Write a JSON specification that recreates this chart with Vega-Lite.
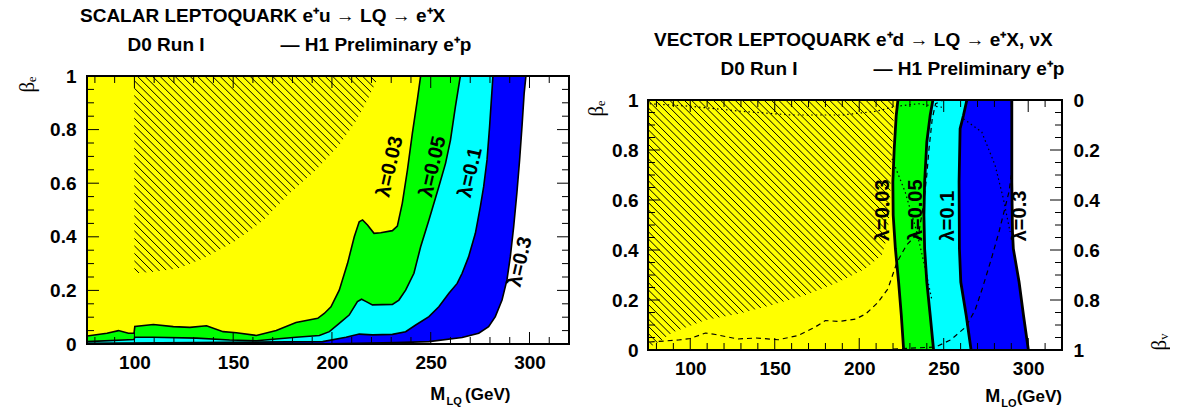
{
  "$schema": "https://vega.github.io/schema/vega-lite/v6.json",
  "background": "white",
  "padding": {"left": 16, "top": 0, "right": 0, "bottom": 0},
  "spacing": 15,
  "config": {
    "font": "Liberation Sans",
    "view": {"stroke": null},
    "axis": {"labelFont": "Liberation Sans", "labelFontSize": 19, "labelFontWeight": "bold", "labelColor": "black", "ticks": false, "domain": false, "grid": false, "zindex": 1, "labelOverlap": false, "labelFlush": false, "titleColor": "black"},
    "title": {"font": "Liberation Sans", "fontSize": 19, "fontWeight": "bold", "color": "black", "anchor": "start", "frame": "group", "subtitleFont": "Liberation Sans", "subtitleFontSize": 19, "subtitleFontWeight": "bold", "subtitleColor": "black", "subtitlePadding": 10}
  },
  "datasets": {
    "L": [
      {"c":"0.03","x":76,"y":0.03},{"c":"0.03","x":86.1,"y":0.04},{"c":"0.03","x":91.9,"y":0.05},{"c":"0.03","x":97,"y":0.04},{"c":"0.03","x":99.8,"y":0.04},{"c":"0.03","x":100.2,"y":0.065},{"c":"0.03","x":109.6,"y":0.073},{"c":"0.03","x":119.7,"y":0.065},{"c":"0.03","x":128.1,"y":0.062},{"c":"0.03","x":136.5,"y":0.068},{"c":"0.03","x":144.9,"y":0.046},{"c":"0.03","x":151.6,"y":0.042},{"c":"0.03","x":161.7,"y":0.032},{"c":"0.03","x":171.8,"y":0.05},{"c":"0.03","x":181.8,"y":0.08},{"c":"0.03","x":192.8,"y":0.096},{"c":"0.03","x":196.1,"y":0.114},{"c":"0.03","x":199.5,"y":0.139},{"c":"0.03","x":203.7,"y":0.201},{"c":"0.03","x":207.9,"y":0.301},{"c":"0.03","x":211.3,"y":0.4},{"c":"0.03","x":213.8,"y":0.456},{"c":"0.03","x":215.5,"y":0.463},{"c":"0.03","x":218,"y":0.444},{"c":"0.03","x":221.3,"y":0.413},{"c":"0.03","x":224.7,"y":0.415},{"c":"0.03","x":230.6,"y":0.423},{"c":"0.03","x":233.1,"y":0.44},{"c":"0.03","x":235.6,"y":0.525},{"c":"0.03","x":238.2,"y":0.649},{"c":"0.03","x":240.7,"y":0.786},{"c":"0.03","x":243.2,"y":0.91},{"c":"0.03","x":244.9,"y":1},{"c":"0.03","x":320,"y":1},
      {"c":"0.05","x":76,"y":0.009},{"c":"0.05","x":99.8,"y":0.017},{"c":"0.05","x":100.2,"y":0.025},{"c":"0.05","x":109.6,"y":0.025},{"c":"0.05","x":131.4,"y":0.022},{"c":"0.05","x":148.2,"y":0.015},{"c":"0.05","x":161.7,"y":0.012},{"c":"0.05","x":181.8,"y":0.025},{"c":"0.05","x":193.6,"y":0.032},{"c":"0.05","x":198.7,"y":0.046},{"c":"0.05","x":203.7,"y":0.077},{"c":"0.05","x":208.7,"y":0.108},{"c":"0.05","x":212.9,"y":0.158},{"c":"0.05","x":215,"y":0.167},{"c":"0.05","x":217.1,"y":0.159},{"c":"0.05","x":220.5,"y":0.146},{"c":"0.05","x":230.6,"y":0.148},{"c":"0.05","x":233.9,"y":0.164},{"c":"0.05","x":237.3,"y":0.201},{"c":"0.05","x":241.5,"y":0.264},{"c":"0.05","x":244.9,"y":0.363},{"c":"0.05","x":249.1,"y":0.463},{"c":"0.05","x":254.1,"y":0.587},{"c":"0.05","x":257.5,"y":0.674},{"c":"0.05","x":260,"y":0.761},{"c":"0.05","x":262.5,"y":0.886},{"c":"0.05","x":265,"y":1},{"c":"0.05","x":320,"y":1},
      {"c":"0.1","x":76,"y":0.0025},{"c":"0.1","x":131.4,"y":0.005},{"c":"0.1","x":195.3,"y":0.009},{"c":"0.1","x":207.1,"y":0.025},{"c":"0.1","x":213.8,"y":0.037},{"c":"0.1","x":220.5,"y":0.034},{"c":"0.1","x":230.6,"y":0.036},{"c":"0.1","x":237.3,"y":0.046},{"c":"0.1","x":242.4,"y":0.071},{"c":"0.1","x":249.1,"y":0.102},{"c":"0.1","x":254.1,"y":0.139},{"c":"0.1","x":259.2,"y":0.189},{"c":"0.1","x":263.4,"y":0.226},{"c":"0.1","x":265.9,"y":0.264},{"c":"0.1","x":269.2,"y":0.326},{"c":"0.1","x":272.6,"y":0.413},{"c":"0.1","x":275.1,"y":0.512},{"c":"0.1","x":276.8,"y":0.587},{"c":"0.1","x":278.5,"y":0.687},{"c":"0.1","x":279.8,"y":0.811},{"c":"0.1","x":281.5,"y":1},{"c":"0.1","x":320,"y":1},
      {"c":"0.3","x":76,"y":0},{"c":"0.3","x":198.7,"y":0.001},{"c":"0.3","x":232.3,"y":0.005},{"c":"0.3","x":249.1,"y":0.009},{"c":"0.3","x":265.9,"y":0.024},{"c":"0.3","x":274.3,"y":0.04},{"c":"0.3","x":279.3,"y":0.065},{"c":"0.3","x":282.7,"y":0.102},{"c":"0.3","x":286.1,"y":0.164},{"c":"0.3","x":288.6,"y":0.239},{"c":"0.3","x":290.3,"y":0.326},{"c":"0.3","x":292,"y":0.438},{"c":"0.3","x":293.6,"y":0.562},{"c":"0.3","x":295,"y":0.687},{"c":"0.3","x":296.2,"y":0.811},{"c":"0.3","x":297.3,"y":0.935},{"c":"0.3","x":298.2,"y":1},{"c":"0.3","x":320,"y":1}
    ],
    "R": [
      {"c":"0.03","x":226.3,"y":0},{"c":"0.03","x":224.9,"y":0.139},{"c":"0.03","x":223.3,"y":0.272},{"c":"0.03","x":221.4,"y":0.405},{"c":"0.03","x":220.1,"y":0.539},{"c":"0.03","x":219.9,"y":0.672},{"c":"0.03","x":220.7,"y":0.805},{"c":"0.03","x":221.9,"y":0.939},{"c":"0.03","x":222.9,"y":1},
      {"c":"0.05","x":244,"y":0},{"c":"0.05","x":242,"y":0.139},{"c":"0.05","x":240,"y":0.272},{"c":"0.05","x":238.7,"y":0.405},{"c":"0.05","x":238.3,"y":0.539},{"c":"0.05","x":238.7,"y":0.672},{"c":"0.05","x":240,"y":0.832},{"c":"0.05","x":242,"y":0.939},{"c":"0.05","x":243.6,"y":1},
      {"c":"0.1","x":266.2,"y":0},{"c":"0.1","x":263.3,"y":0.139},{"c":"0.1","x":260.1,"y":0.272},{"c":"0.1","x":259.3,"y":0.405},{"c":"0.1","x":259.1,"y":0.672},{"c":"0.1","x":259.7,"y":0.885},{"c":"0.1","x":261.7,"y":0.939},{"c":"0.1","x":263.7,"y":1},
      {"c":"0.3","x":300.1,"y":0},{"c":"0.3","x":297.2,"y":0.139},{"c":"0.3","x":294.6,"y":0.272},{"c":"0.3","x":291.2,"y":0.405},{"c":"0.3","x":290.7,"y":0.472},{"c":"0.3","x":290.3,"y":0.672},{"c":"0.3","x":290.3,"y":1}
    ],
    "DR": [
      {"c":"d1","x":76,"y":0.032},{"c":"d1","x":93,"y":0.04},{"c":"d1","x":100,"y":0.046},{"c":"d1","x":109,"y":0.068},{"c":"d1","x":115,"y":0.062},{"c":"d1","x":128,"y":0.044},{"c":"d1","x":139,"y":0.048},{"c":"d1","x":152,"y":0.041},{"c":"d1","x":164,"y":0.058},{"c":"d1","x":174,"y":0.092},{"c":"d1","x":180,"y":0.118},{"c":"d1","x":188,"y":0.114},{"c":"d1","x":198,"y":0.124},{"c":"d1","x":204,"y":0.145},{"c":"d1","x":211,"y":0.19},{"c":"d1","x":217,"y":0.245},{"c":"d1","x":222.3,"y":0.35},{"c":"d1","x":228,"y":0.42},{"c":"d1","x":235.3,"y":0.47},{"c":"d1","x":238,"y":0.58},{"c":"d1","x":240,"y":0.7},{"c":"d1","x":241.3,"y":0.805},{"c":"d1","x":243.2,"y":0.925},{"c":"d1","x":245.2,"y":0.985},{"c":"d1","x":250,"y":1},
      {"c":"d2","x":220,"y":0.004},{"c":"d2","x":245.2,"y":0.012},{"c":"d2","x":254,"y":0.04},{"c":"d2","x":263,"y":0.092},{"c":"d2","x":268.6,"y":0.16},{"c":"d2","x":272.8,"y":0.245},{"c":"d2","x":278,"y":0.36},{"c":"d2","x":282.7,"y":0.472},{"c":"d2","x":288.6,"y":0.632},{"c":"d2","x":290,"y":0.7}
    ],
    "TR": [
      {"c":"t1","x":76,"y":0.985},{"c":"t1","x":100,"y":0.975},{"c":"t1","x":130,"y":0.955},{"c":"t1","x":160,"y":0.94},{"c":"t1","x":190,"y":0.94},{"c":"t1","x":210,"y":0.955},{"c":"t1","x":222,"y":0.975},{"c":"t1","x":235,"y":0.985},{"c":"t1","x":250,"y":0.97},
      {"c":"t2","x":219.4,"y":0.765},{"c":"t2","x":227.2,"y":0.632},{"c":"t2","x":234.1,"y":0.472},{"c":"t2","x":239.1,"y":0.325},{"c":"t2","x":243,"y":0.2},
      {"c":"t3","x":261.7,"y":0.925},{"c":"t3","x":272.5,"y":0.872},{"c":"t3","x":280.4,"y":0.739},{"c":"t3","x":285.3,"y":0.605},{"c":"t3","x":289.3,"y":0.472}
    ],
    "HL": [
      {"a":223,"b":358.7},{"a":219.2,"b":354.9},{"a":215.4,"b":351.1},{"a":211.6,"b":347.3},{"a":207.8,"b":343.5},{"a":204,"b":339.7},{"a":200.2,"b":335.9},{"a":196.4,"b":332.1},{"a":192.6,"b":328.3},{"a":188.8,"b":324.5},{"a":185,"b":320.7},{"a":181.2,"b":316.9},{"a":177.4,"b":313.1},{"a":173.6,"b":309.3},{"a":169.8,"b":305.5},{"a":166,"b":301.7},{"a":162.2,"b":297.9},{"a":158.4,"b":294.1},{"a":154.6,"b":290.3},{"a":150.8,"b":286.5},{"a":147,"b":282.7},{"a":143.2,"b":278.9},{"a":139.4,"b":275.1},{"a":135.6,"b":271.3},{"a":131.8,"b":267.5},{"a":128,"b":263.7},{"a":124.2,"b":259.9},{"a":120.4,"b":256.1},{"a":116.6,"b":252.3},{"a":112.8,"b":248.5},{"a":109,"b":244.7},{"a":105.2,"b":240.9},{"a":101.4,"b":237.1},{"a":97.6,"b":233.3},{"a":93.8,"b":229.5},{"a":90,"b":225.7},{"a":86.2,"b":221.9},{"a":82.4,"b":218.1},{"a":78.6,"b":214.3},{"a":74.8,"b":210.5},{"a":71,"b":206.7},{"a":67.2,"b":202.9},{"a":63.4,"b":199.1},{"a":59.6,"b":195.3},{"a":55.8,"b":191.5},{"a":52,"b":187.7},{"a":48.2,"b":183.9},{"a":44.4,"b":180.1},{"a":40.6,"b":176.3},{"a":36.8,"b":172.5},{"a":33,"b":168.7},{"a":29.2,"b":164.9},{"a":25.4,"b":161.1},{"a":21.6,"b":157.3},{"a":17.8,"b":153.5},{"a":14,"b":149.7},{"a":10.2,"b":145.9},{"a":6.4,"b":142.1},{"a":2.6,"b":138.3}
    ],
    "HR": [
      {"a":221,"b":368.7},{"a":216.7,"b":364.4},{"a":212.4,"b":360.1},{"a":208.1,"b":355.8},{"a":203.8,"b":351.5},{"a":199.5,"b":347.2},{"a":195.2,"b":342.9},{"a":190.9,"b":338.6},{"a":186.6,"b":334.3},{"a":182.3,"b":330},{"a":178,"b":325.7},{"a":173.7,"b":321.4},{"a":169.4,"b":317.1},{"a":165.1,"b":312.8},{"a":160.8,"b":308.5},{"a":156.5,"b":304.2},{"a":152.2,"b":299.9},{"a":147.9,"b":295.6},{"a":143.6,"b":291.3},{"a":139.3,"b":287},{"a":135,"b":282.7},{"a":130.7,"b":278.4},{"a":126.4,"b":274.1},{"a":122.1,"b":269.8},{"a":117.8,"b":265.5},{"a":113.5,"b":261.2},{"a":109.2,"b":256.9},{"a":104.9,"b":252.6},{"a":100.6,"b":248.3},{"a":96.3,"b":244},{"a":92,"b":239.7},{"a":87.7,"b":235.4},{"a":83.4,"b":231.1},{"a":79.1,"b":226.8},{"a":74.8,"b":222.5},{"a":70.5,"b":218.2},{"a":66.2,"b":213.9},{"a":61.9,"b":209.6},{"a":57.6,"b":205.3},{"a":53.3,"b":201},{"a":49,"b":196.7},{"a":44.7,"b":192.4},{"a":40.4,"b":188.1},{"a":36.1,"b":183.8},{"a":31.8,"b":179.5},{"a":27.5,"b":175.2},{"a":23.2,"b":170.9},{"a":18.9,"b":166.6},{"a":14.6,"b":162.3},{"a":10.3,"b":158},{"a":6,"b":153.7},{"a":1.7,"b":149.4},{"a":-2.6,"b":145.1},{"a":-6.9,"b":140.8},{"a":-11.2,"b":136.5},{"a":-15.5,"b":132.2},{"a":-19.8,"b":127.9},{"a":-24.1,"b":123.6},{"a":-28.4,"b":119.3},{"a":-32.7,"b":115},{"a":-37,"b":110.7},{"a":-41.3,"b":106.4},{"a":-45.6,"b":102.1},{"a":-49.9,"b":97.8},{"a":-54.2,"b":93.5},{"a":-58.5,"b":89.2},{"a":-62.8,"b":84.9},{"a":-67.1,"b":80.6},{"a":-71.4,"b":76.3}
    ],
    "CL": [
      {"x":76,"y":1},{"x":99.9,"y":1},{"x":100,"y":0.264},{"x":110,"y":0.27},{"x":122,"y":0.282},{"x":135,"y":0.32},{"x":150.8,"y":0.382},{"x":165,"y":0.46},{"x":178.5,"y":0.562},{"x":192,"y":0.65},{"x":203.7,"y":0.743},{"x":212,"y":0.83},{"x":218,"y":0.91},{"x":223,"y":0.99},{"x":223.5,"y":1},{"x":320,"y":1}
    ],
    "CR": [
      {"x":75,"y":0.012},{"x":78.5,"y":0.02},{"x":89.4,"y":0.07},{"x":109.1,"y":0.12},{"x":128.8,"y":0.145},{"x":148.4,"y":0.18},{"x":168.2,"y":0.22},{"x":187.9,"y":0.272},{"x":203.6,"y":0.325},{"x":213.4,"y":0.379},{"x":216.5,"y":0.45},{"x":218,"y":0.55},{"x":218.5,"y":0.65},{"x":219,"y":0.75},{"x":219.8,"y":0.85},{"x":220.5,"y":0.95},{"x":221,"y":1},{"x":320,"y":1}
    ],
    "LabL": [
      {"t":"λ=0.03","x":229.4,"y":0.662},{"t":"λ=0.05","x":251.1,"y":0.662},{"t":"λ=0.1","x":270.1,"y":0.64},{"t":"λ=0.3","x":295.3,"y":0.307}
    ],
    "LabR": [
      {"t":"λ=0.03","x":213.9,"y":0.559},{"t":"λ=0.05","x":233.5,"y":0.559},{"t":"λ=0.1","x":252.3,"y":0.536},{"t":"λ=0.3","x":295.2,"y":0.536}
    ],
    "TXM": [{"v":100},{"v":150},{"v":200},{"v":250},{"v":300}],
    "TXm": [{"v":80},{"v":90},{"v":110},{"v":120},{"v":130},{"v":140},{"v":160},{"v":170},{"v":180},{"v":190},{"v":210},{"v":220},{"v":230},{"v":240},{"v":260},{"v":270},{"v":280},{"v":290},{"v":310}],
    "TYM": [{"v":0.2},{"v":0.4},{"v":0.6},{"v":0.8}],
    "TYm": [{"v":0.05},{"v":0.1},{"v":0.15},{"v":0.25},{"v":0.3},{"v":0.35},{"v":0.45},{"v":0.5},{"v":0.55},{"v":0.65},{"v":0.7},{"v":0.75},{"v":0.85},{"v":0.9},{"v":0.95}]
  },
  "hconcat": [
    {"spacing": 0, "vconcat": [
    {"width": 1, "height": 1, "data": {"values": [{}]}, "mark": {"type": "point", "opacity": 0}, "encoding": {}},
    {
      "width": 482,
      "height": 268,
      "title": {"text": "SCALAR LEPTOQUARK e⁺u → LQ → e⁺X", "subtitle": "\u200b\u2003\u2003\u2002D0 Run I\u2003\u2003\u2003\u2003— H1 Preliminary e⁺p", "dx": -7, "offset": 12},
      "resolve": {"axis": {"x": "independent", "y": "independent"}},
      "layer": [
        {
          "layer": [
            {
              "data": {"values": [{}]},
              "mark": {"type": "rect", "fill": "#ffff00"},
              "encoding": {
                "x": {"datum": 76, "type": "quantitative", "scale": {"domain": [76, 320], "nice": false, "zero": false},
                  "axis": {"orient": "bottom", "title": null, "ticks": false, "labelOverlap": false, "values": [100,150,200,250,300], "labelPadding": 9}},
                "x2": {"datum": 320},
                "y": {"datum": 0, "type": "quantitative", "scale": {"domain": [0, 1], "nice": false, "zero": false},
                  "axis": {"orient": "left", "title": "βₑ", "ticks": false, "labelOverlap": false, "titleFont": "Liberation Serif", "titleFontSize": 21, "titleFontWeight": "normal", "titleAnchor": "end", "titlePadding": 12, "values": [0,0.2,0.4,0.6,0.8,1], "format": "~g", "labelPadding": 11}},
                "y2": {"datum": 1}
              }
            },
            {
              "data": {"name": "HL"},
              "mark": {"type": "rule", "color": "black", "strokeWidth": 1, "clip": true},
              "encoding": {"x": {"field": "a", "type": "quantitative"}, "x2": {"field": "b"}, "y": {"datum": 1, "type": "quantitative"}, "y2": {"datum": 0}}
            },
            {
              "data": {"name": "CL"},
              "mark": {"type": "area", "color": "#ffff00", "clip": true},
              "encoding": {"x": {"field": "x", "type": "quantitative"}, "y": {"field": "y", "type": "quantitative"}, "y2": {"datum": 0}}
            },
            {
              "data": {"name": "L"},
              "transform": [{"filter": "datum.c === '0.03'"}],
              "mark": {"type": "area", "color": "#00ff00", "clip": true},
              "encoding": {"x": {"field": "x", "type": "quantitative"}, "y": {"field": "y", "type": "quantitative", "stack": null}, "y2": {"datum": 0}}
            },
            {
              "data": {"name": "L"},
              "transform": [{"filter": "datum.c === '0.05'"}],
              "mark": {"type": "area", "color": "#00ffff", "clip": true},
              "encoding": {"x": {"field": "x", "type": "quantitative"}, "y": {"field": "y", "type": "quantitative", "stack": null}, "y2": {"datum": 0}}
            },
            {
              "data": {"name": "L"},
              "transform": [{"filter": "datum.c === '0.1'"}],
              "mark": {"type": "area", "color": "#0000ff", "clip": true},
              "encoding": {"x": {"field": "x", "type": "quantitative"}, "y": {"field": "y", "type": "quantitative", "stack": null}, "y2": {"datum": 0}}
            },
            {
              "data": {"name": "L"},
              "transform": [{"filter": "datum.c === '0.3'"}],
              "mark": {"type": "area", "color": "#ffffff", "clip": true},
              "encoding": {"x": {"field": "x", "type": "quantitative"}, "y": {"field": "y", "type": "quantitative", "stack": null}, "y2": {"datum": 0}}
            },
            {
              "data": {"name": "L"},
              "mark": {"type": "line", "color": "black", "strokeWidth": 1.6, "clip": true},
              "encoding": {"x": {"field": "x", "type": "quantitative"}, "y": {"field": "y", "type": "quantitative"}, "detail": {"field": "c"}}
            },
            {"data": {"name": "TXM"}, "mark": {"type": "rule", "color": "black", "strokeWidth": 1}, "encoding": {"x": {"field": "v", "type": "quantitative"}, "y": {"datum": 0, "type": "quantitative"}, "y2": {"datum": 0.0448}}},
            {"data": {"name": "TXM"}, "mark": {"type": "rule", "color": "black", "strokeWidth": 1}, "encoding": {"x": {"field": "v", "type": "quantitative"}, "y": {"datum": 1, "type": "quantitative"}, "y2": {"datum": 0.9552}}},
            {"data": {"name": "TXm"}, "mark": {"type": "rule", "color": "black", "strokeWidth": 1}, "encoding": {"x": {"field": "v", "type": "quantitative"}, "y": {"datum": 0, "type": "quantitative"}, "y2": {"datum": 0.0261}}},
            {"data": {"name": "TXm"}, "mark": {"type": "rule", "color": "black", "strokeWidth": 1}, "encoding": {"x": {"field": "v", "type": "quantitative"}, "y": {"datum": 1, "type": "quantitative"}, "y2": {"datum": 0.9739}}},
            {"data": {"name": "TYM"}, "mark": {"type": "rule", "color": "black", "strokeWidth": 1}, "encoding": {"y": {"field": "v", "type": "quantitative"}, "x": {"datum": 76, "type": "quantitative"}, "x2": {"datum": 82.07}}},
            {"data": {"name": "TYM"}, "mark": {"type": "rule", "color": "black", "strokeWidth": 1}, "encoding": {"y": {"field": "v", "type": "quantitative"}, "x": {"datum": 320, "type": "quantitative"}, "x2": {"datum": 313.93}}},
            {"data": {"name": "TYm"}, "mark": {"type": "rule", "color": "black", "strokeWidth": 1}, "encoding": {"y": {"field": "v", "type": "quantitative"}, "x": {"datum": 76, "type": "quantitative"}, "x2": {"datum": 79.54}}},
            {"data": {"name": "TYm"}, "mark": {"type": "rule", "color": "black", "strokeWidth": 1}, "encoding": {"y": {"field": "v", "type": "quantitative"}, "x": {"datum": 320, "type": "quantitative"}, "x2": {"datum": 316.46}}},
            {
              "data": {"name": "LabL"},
              "mark": {"type": "text", "angle": -77, "font": "Liberation Sans", "fontWeight": "bold", "fontSize": 20, "color": "black", "align": "center", "baseline": "middle"},
              "encoding": {"x": {"field": "x", "type": "quantitative"}, "y": {"field": "y", "type": "quantitative"}, "text": {"field": "t"}}
            },
            {
              "data": {"values": [{}]},
              "mark": {"type": "text", "text": "M", "align": "right", "baseline": "alphabetic", "font": "Liberation Sans", "fontWeight": "bold", "fontSize": 18, "color": "black"},
              "encoding": {"x": {"datum": 257.3}, "y": {"datum": -0.209}}
            },
            {
              "data": {"values": [{}]},
              "mark": {"type": "text", "text": "LQ", "align": "left", "baseline": "alphabetic", "font": "Liberation Sans", "fontWeight": "bold", "fontSize": 11, "color": "black"},
              "encoding": {"x": {"datum": 258}, "y": {"datum": -0.228}}
            },
            {
              "data": {"values": [{}]},
              "mark": {"type": "text", "text": "(GeV)", "align": "left", "baseline": "alphabetic", "font": "Liberation Sans", "fontWeight": "bold", "fontSize": 17, "color": "black"},
              "encoding": {"x": {"datum": 267.4}, "y": {"datum": -0.209}}
            }
          ]
        },
        {
          "data": {"values": [{}]},
          "mark": {"type": "rect", "filled": false, "stroke": "black", "strokeWidth": 2},
          "encoding": {
            "x": {"datum": 76, "type": "quantitative", "axis": null},
            "x2": {"datum": 320},
            "y": {"datum": 0, "type": "quantitative", "axis": null},
            "y2": {"datum": 1}
          }
        }
      ]
    }]},
    {"spacing": 0, "vconcat": [
    {"width": 1, "height": 1, "data": {"values": [{}]}, "mark": {"type": "point", "opacity": 0}, "encoding": {}},
    {
      "width": 414,
      "height": 250,
      "title": {"text": ["", "VECTOR LEPTOQUARK e⁺d → LQ → e⁺X, νX"], "lineHeight": 24, "subtitle": "\u200b\u2003\u2003\u2003\u2002D0 Run I\u2003\u2003\u2003\u2003— H1 Preliminary e⁺p", "dx": 6, "offset": 12},
      "resolve": {"axis": {"x": "independent", "y": "independent"}},
      "layer": [
        {
          "layer": [
            {
              "data": {"values": [{}]},
              "mark": {"type": "rect", "fill": "#ffff00"},
              "encoding": {
                "x": {"datum": 75, "type": "quantitative", "scale": {"domain": [75, 320], "nice": false, "zero": false},
                  "axis": {"orient": "bottom", "title": null, "ticks": false, "labelOverlap": false, "values": [100,150,200,250,300], "labelPadding": 9}},
                "x2": {"datum": 320},
                "y": {"datum": 0, "type": "quantitative", "scale": {"domain": [0, 1], "nice": false, "zero": false},
                  "axis": {"orient": "left", "title": "βₑ", "ticks": false, "labelOverlap": false, "titleFont": "Liberation Serif", "titleFontSize": 21, "titleFontWeight": "normal", "titleAnchor": "end", "titlePadding": 5, "values": [0,0.2,0.4,0.6,0.8,1], "format": "~g", "labelPadding": 10}},
                "y2": {"datum": 1}
              }
            },
            {
              "data": {"name": "HR"},
              "mark": {"type": "rule", "color": "black", "strokeWidth": 1, "clip": true},
              "encoding": {"x": {"field": "a", "type": "quantitative"}, "x2": {"field": "b"}, "y": {"datum": 1, "type": "quantitative"}, "y2": {"datum": 0}}
            },
            {
              "data": {"name": "CR"},
              "mark": {"type": "area", "color": "#ffff00", "clip": true},
              "encoding": {"x": {"field": "x", "type": "quantitative"}, "y": {"field": "y", "type": "quantitative"}, "y2": {"datum": 0}}
            },
            {
              "data": {"name": "R"},
              "transform": [{"filter": "datum.c === '0.03'"}],
              "mark": {"type": "area", "orient": "horizontal", "color": "#00ff00", "clip": true},
              "encoding": {"y": {"field": "y", "type": "quantitative"}, "x": {"field": "x", "type": "quantitative", "stack": null}, "x2": {"datum": 320}}
            },
            {
              "data": {"name": "R"},
              "transform": [{"filter": "datum.c === '0.05'"}],
              "mark": {"type": "area", "orient": "horizontal", "color": "#00ffff", "clip": true},
              "encoding": {"y": {"field": "y", "type": "quantitative"}, "x": {"field": "x", "type": "quantitative", "stack": null}, "x2": {"datum": 320}}
            },
            {
              "data": {"name": "R"},
              "transform": [{"filter": "datum.c === '0.1'"}],
              "mark": {"type": "area", "orient": "horizontal", "color": "#0000ff", "clip": true},
              "encoding": {"y": {"field": "y", "type": "quantitative"}, "x": {"field": "x", "type": "quantitative", "stack": null}, "x2": {"datum": 320}}
            },
            {
              "data": {"name": "R"},
              "transform": [{"filter": "datum.c === '0.3'"}],
              "mark": {"type": "area", "orient": "horizontal", "color": "#ffffff", "clip": true},
              "encoding": {"y": {"field": "y", "type": "quantitative"}, "x": {"field": "x", "type": "quantitative", "stack": null}, "x2": {"datum": 320}}
            },
            {
              "data": {"name": "DR"},
              "mark": {"type": "line", "color": "black", "strokeWidth": 1.2, "strokeDash": [5, 4], "clip": true},
              "encoding": {"x": {"field": "x", "type": "quantitative"}, "y": {"field": "y", "type": "quantitative"}, "detail": {"field": "c"}}
            },
            {
              "data": {"name": "TR"},
              "mark": {"type": "line", "color": "black", "strokeWidth": 1.2, "strokeDash": [1.5, 3], "clip": true},
              "encoding": {"x": {"field": "x", "type": "quantitative"}, "y": {"field": "y", "type": "quantitative"}, "detail": {"field": "c"}}
            },
            {
              "data": {"name": "R"},
              "mark": {"type": "line", "color": "black", "strokeWidth": 2.8, "clip": true},
              "encoding": {"x": {"field": "x", "type": "quantitative"}, "y": {"field": "y", "type": "quantitative"}, "detail": {"field": "c"}, "order": {"field": "y", "type": "quantitative"}}
            },
            {"data": {"name": "TXM"}, "mark": {"type": "rule", "color": "black", "strokeWidth": 1}, "encoding": {"x": {"field": "v", "type": "quantitative"}, "y": {"datum": 0, "type": "quantitative"}, "y2": {"datum": 0.048}}},
            {"data": {"name": "TXM"}, "mark": {"type": "rule", "color": "black", "strokeWidth": 1}, "encoding": {"x": {"field": "v", "type": "quantitative"}, "y": {"datum": 1, "type": "quantitative"}, "y2": {"datum": 0.952}}},
            {"data": {"name": "TXm"}, "mark": {"type": "rule", "color": "black", "strokeWidth": 1}, "encoding": {"x": {"field": "v", "type": "quantitative"}, "y": {"datum": 0, "type": "quantitative"}, "y2": {"datum": 0.028}}},
            {"data": {"name": "TXm"}, "mark": {"type": "rule", "color": "black", "strokeWidth": 1}, "encoding": {"x": {"field": "v", "type": "quantitative"}, "y": {"datum": 1, "type": "quantitative"}, "y2": {"datum": 0.972}}},
            {"data": {"name": "TYM"}, "mark": {"type": "rule", "color": "black", "strokeWidth": 1}, "encoding": {"y": {"field": "v", "type": "quantitative"}, "x": {"datum": 75, "type": "quantitative"}, "x2": {"datum": 82.1}}},
            {"data": {"name": "TYM"}, "mark": {"type": "rule", "color": "black", "strokeWidth": 1}, "encoding": {"y": {"field": "v", "type": "quantitative"}, "x": {"datum": 320, "type": "quantitative"}, "x2": {"datum": 312.9}}},
            {"data": {"name": "TYm"}, "mark": {"type": "rule", "color": "black", "strokeWidth": 1}, "encoding": {"y": {"field": "v", "type": "quantitative"}, "x": {"datum": 75, "type": "quantitative"}, "x2": {"datum": 79.14}}},
            {"data": {"name": "TYm"}, "mark": {"type": "rule", "color": "black", "strokeWidth": 1}, "encoding": {"y": {"field": "v", "type": "quantitative"}, "x": {"datum": 320, "type": "quantitative"}, "x2": {"datum": 315.86}}},
            {
              "data": {"name": "LabR"},
              "mark": {"type": "text", "angle": -90, "font": "Liberation Sans", "fontWeight": "bold", "fontSize": 20, "color": "black", "align": "center", "baseline": "middle"},
              "encoding": {"x": {"field": "x", "type": "quantitative"}, "y": {"field": "y", "type": "quantitative"}, "text": {"field": "t"}}
            },
            {
              "data": {"values": [{}]},
              "mark": {"type": "text", "text": "M", "align": "right", "baseline": "alphabetic", "font": "Liberation Sans", "fontWeight": "bold", "fontSize": 18, "color": "black"},
              "encoding": {"x": {"datum": 283.4}, "y": {"datum": -0.208}}
            },
            {
              "data": {"values": [{}]},
              "mark": {"type": "text", "text": "LQ", "align": "left", "baseline": "alphabetic", "font": "Liberation Sans", "fontWeight": "bold", "fontSize": 11, "color": "black"},
              "encoding": {"x": {"datum": 284}, "y": {"datum": -0.228}}
            },
            {
              "data": {"values": [{}]},
              "mark": {"type": "text", "text": "(GeV)", "align": "right", "baseline": "alphabetic", "font": "Liberation Sans", "fontWeight": "bold", "fontSize": 17, "color": "black"},
              "encoding": {"x": {"datum": 320}, "y": {"datum": -0.208}}
            }
          ]
        },
        {
          "data": {"values": [{}]},
          "mark": {"type": "rect", "filled": false, "stroke": "black", "strokeWidth": 2},
          "encoding": {
            "x": {"datum": 75, "type": "quantitative", "axis": null},
            "x2": {"datum": 320},
            "y": {"datum": 0, "type": "quantitative", "axis": {"orient": "right", "title": "βᵥ", "ticks": false, "labelOverlap": false, "titleFont": "Liberation Serif", "titleFontSize": 21, "titleFontWeight": "normal", "titleAnchor": "start", "titleAngle": -90, "titlePadding": 70, "values": [0,0.2,0.4,0.6,0.8,1], "labelExpr": "format(1 - datum.value, '~g')", "labelPadding": 11}},
            "y2": {"datum": 1}
          }
        }
      ]
    }]}
  ]
}
